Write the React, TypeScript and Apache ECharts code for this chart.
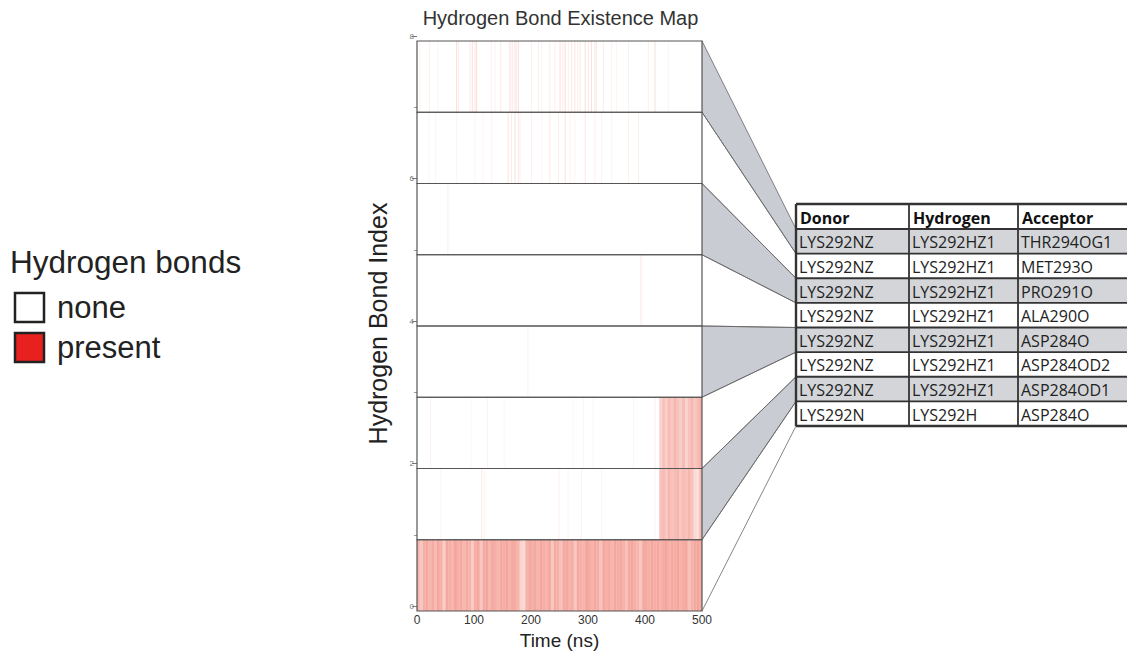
import React, { useEffect, useRef } from "react";
import * as echarts from "echarts";

// ---------------- data ----------------
const bondIndex = [0, 1, 2, 3, 4, 5, 6, 7];
const timeTicks = [0, 100, 200, 300, 400, 500];
const indexTickLabels = [0, 2, 4, 6, 8];
const indexMinorTicks = [1, 3, 5, 7];

const binWidthNs = 5;
// bond 0 (bottom row): occupancy per 5 ns bin, 0-500 ns
const row0Bins = [
  0.6, 0.45, 0.65, 0.7, 0.6, 0.68, 0.55, 0.7, 0.62, 0.4,
  0.7, 0.66, 0.6, 0.72, 0.64, 0.7, 0.58, 0.68, 0.62, 0.42,
  0.66, 0.7, 0.45, 0.68, 0.72, 0.6, 0.7, 0.65, 0.58, 0.7,
  0.66, 0.72, 0.62, 0.7, 0.68, 0.6, 0.35, 0.3, 0.62, 0.7,
  0.65, 0.7, 0.6, 0.72, 0.66, 0.62, 0.7, 0.45, 0.68, 0.64,
  0.5, 0.68, 0.7, 0.62, 0.66, 0.45, 0.7, 0.64, 0.6, 0.72,
  0.68, 0.62, 0.7, 0.66, 0.48, 0.7, 0.64, 0.68, 0.6, 0.72,
  0.66, 0.7, 0.62, 0.5, 0.68, 0.72, 0.64, 0.6, 0.45, 0.7,
  0.68, 0.64, 0.72, 0.66, 0.7, 0.62, 0.68, 0.72, 0.64, 0.7,
  0.66, 0.72, 0.62, 0.68, 0.7, 0.5, 0.64, 0.7, 0.72, 0.68,
];
// dense end segments of bonds 1 and 2 (5 ns bins from 425 ns)
const tailStartNs = 425;
const row1TailBins = [0.5, 0.55, 0.45, 0.6, 0.5, 0.55, 0.6, 0.45, 0.55, 0.5, 0.6, 0.5, 0.3, 0.25, 0.55];
const row2TailBins = [0.35, 0.5, 0.4, 0.55, 0.45, 0.6, 0.5, 0.4, 0.55, 0.35, 0.5, 0.6, 0.45, 0.55, 0.65];

// isolated events: [time ns, intensity]
const row1Lines = [[42, 0.1], [113.5, 0.2], [118, 0.12], [249, 0.15], [265, 0.1], [288.6, 0.12], [324, 0.1], [417.5, 0.12]];
const row2Lines = [[24, 0.12], [96, 0.08], [124, 0.12], [153, 0.08], [274, 0.1], [292, 0.1], [309, 0.08], [379.6, 0.1], [417.5, 0.15]];
const row3Lines = [[194, 0.08], [196, 0.05]];
const row4Lines = [[392, 0.15], [395, 0.1]];
const row5Lines = [[54, 0.12], [56, 0.06]];
const row6Lines = [
  [21, 0.1], [32.7, 0.08], [69.6, 0.12], [101.8, 0.12], [116, 0.1], [131, 0.12], [160, 0.25], [166, 0.2],
  [172, 0.28], [178, 0.2], [180.7, 0.15], [201, 0.12], [219, 0.1], [233, 0.2], [248, 0.15], [260, 0.25],
  [268.5, 0.12], [277, 0.1], [295, 0.22], [312, 0.15], [324, 0.12], [341.5, 0.1], [371, 0.12], [388.6, 0.15],
];
const row7Lines = [
  [5, 0.12], [21.6, 0.15], [37, 0.1], [69.6, 0.3], [72.5, 0.15], [93, 0.15], [97, 0.3], [101.8, 0.25],
  [104.7, 0.3], [131, 0.15], [137, 0.12], [147, 0.2], [163, 0.3], [167, 0.25], [172, 0.3], [175, 0.2],
  [178, 0.25], [201, 0.12], [213, 0.15], [219, 0.12], [233, 0.18], [242, 0.15], [251, 0.28], [256, 0.2],
  [260, 0.3], [265.5, 0.15], [271, 0.2], [277, 0.25], [282, 0.15], [286, 0.2], [295, 0.3], [300.6, 0.2],
  [306, 0.28], [312, 0.25], [315, 0.2], [327, 0.15], [341.5, 0.12], [350, 0.1], [371, 0.12], [405.8, 0.15],
  [417.5, 0.3], [441, 0.1],
];

// table (top to bottom = bond 7 ... bond 0)
const tableHeaders = ["Donor", "Hydrogen", "Acceptor"];
const donors = ["LYS292NZ", "LYS292NZ", "LYS292NZ", "LYS292NZ", "LYS292NZ", "LYS292NZ", "LYS292NZ", "LYS292N"];
const hydrogens = ["LYS292HZ1", "LYS292HZ1", "LYS292HZ1", "LYS292HZ1", "LYS292HZ1", "LYS292HZ1", "LYS292HZ1", "LYS292H"];
const acceptors = ["THR294OG1", "MET293O", "PRO291O", "ALA290O", "ASP284O", "ASP284OD2", "ASP284OD1", "ASP284O"];

const legendTitle = "Hydrogen bonds";
const legendItems = ["none", "present"];

// ---------------- styles / layout ----------------
const ROW_LOW = -0.07;
const ROW_HIGH = 0.93;
const LINE_W_NS = 1.6;
const MARK_RGB = "236,96,80";
const ALPHA_SCALE = 0.78;
const FONT = "'Liberation Sans', Arial, sans-serif";
const TABLE_FONT = "'Open Sans', 'Noto Sans', sans-serif";

export default function App() {
  const ref = useRef<HTMLDivElement>(null);

  useEffect(() => {
    const chart = echarts.init(ref.current!, null, { renderer: "svg" });

    const marks: number[][] = [];
    row0Bins.forEach((a, k) => marks.push([k * binWidthNs, (k + 1) * binWidthNs, 0, a]));
    row1TailBins.forEach((a, k) => marks.push([tailStartNs + k * binWidthNs, tailStartNs + (k + 1) * binWidthNs, 1, a]));
    row2TailBins.forEach((a, k) => marks.push([tailStartNs + k * binWidthNs, tailStartNs + (k + 1) * binWidthNs, 2, a]));
    const sparse = [[], row1Lines, row2Lines, row3Lines, row4Lines, row5Lines, row6Lines, row7Lines];
    sparse.forEach((lines: any, i) =>
      lines.forEach(([t, a]: number[]) => marks.push([t - LINE_W_NS / 2, t + LINE_W_NS / 2, i, a]))
    );

    const tMax = timeTicks[timeTicks.length - 1];
    const tMin = timeTicks[0];

    chart.setOption({
      animation: false,
      backgroundColor: "#ffffff",
      grid: { left: 417, right: 425, top: 36, bottom: 40, containLabel: false, outerBoundsMode: "none" },
      xAxis: {
        type: "value",
        min: tMin,
        max: tMax,
        interval: 100,
        axisLine: { show: false },
        axisTick: { show: false },
        splitLine: { show: false },
        axisLabel: { fontSize: 12, color: "#333", margin: 3, fontFamily: FONT },
        name: "Time (ns)",
        nameLocation: "middle",
        nameGap: 20,
        nameTextStyle: { fontSize: 19, color: "#222", fontFamily: FONT },
      },
      yAxis: [
        {
          type: "value",
          min: ROW_LOW,
          max: indexTickLabels[indexTickLabels.length - 1],
          axisLine: { show: false },
          splitLine: { show: false },
          axisTick: { show: true, customValues: indexTickLabels, length: 5, lineStyle: { color: "#777", width: 1 } },
          axisLabel: { customValues: indexTickLabels, fontSize: 8, color: "#777", margin: 3, fontFamily: FONT },
          name: "Hydrogen Bond Index",
          nameLocation: "middle",
          nameGap: 27,
          nameTextStyle: { fontSize: 25, color: "#222", fontFamily: FONT },
        },
        {
          type: "value",
          min: ROW_LOW,
          max: indexTickLabels[indexTickLabels.length - 1],
          position: "left",
          axisLine: { show: false },
          splitLine: { show: false },
          axisTick: { show: true, customValues: indexMinorTicks, length: 3, lineStyle: { color: "#999", width: 1 } },
          axisLabel: { show: false },
        },
      ],
      series: [
        {
          type: "custom",
          data: marks,
          encode: { x: [0, 1], y: 2 },
          renderItem: (params: any, api: any) => {
            const t0 = api.value(0);
            const t1 = api.value(1);
            const row = api.value(2);
            const a = api.value(3) * ALPHA_SCALE;
            const p0 = api.coord([t0, row + ROW_HIGH]);
            const p1 = api.coord([t1, row + ROW_LOW]);
            return {
              type: "rect",
              shape: { x: p0[0], y: p0[1], width: Math.max(p1[0] - p0[0], 0.8), height: p1[1] - p0[1] },
              style: { fill: `rgba(${MARK_RGB},${a})` },
            };
          },
          z: 2,
        },
        {
          type: "custom",
          data: bondIndex.map((i) => [tMin, tMax, i]),
          encode: { x: [0, 1], y: 2 },
          renderItem: (params: any, api: any) => {
            const p0 = api.coord([api.value(0), api.value(2) + ROW_HIGH]);
            const p1 = api.coord([api.value(1), api.value(2) + ROW_LOW]);
            return {
              type: "rect",
              shape: { x: p0[0], y: p0[1], width: p1[0] - p0[0], height: p1[1] - p0[1] },
              style: { fill: "none", stroke: "#555", lineWidth: 1.2 },
            };
          },
          z: 3,
        },
      ],
    });

    // ---------- annotations: title, legend, table, connectors ----------
    const plotRight = chart.convertToPixel({ xAxisIndex: 0 }, tMax) as number;
    const plotLeft = chart.convertToPixel({ xAxisIndex: 0 }, tMin) as number;
    const yPix = (v: number) => chart.convertToPixel({ yAxisIndex: 0 }, v) as number;
    const plotTop = yPix(bondIndex.length - 1 + ROW_HIGH);

    const tableLeft = 796;
    const tableTop = 204;
    const headerH = 25;
    const rowH = 24.625;
    const colX = [796, 909, 1018, 1140];
    const nRows = donors.length;
    const tableBottom = tableTop + headerH + nRows * rowH;

    const g: any[] = [];

    // title
    g.push({
      type: "text",
      x: (plotLeft + plotRight) / 2 + 1,
      y: plotTop - 23,
      style: { text: "Hydrogen Bond Existence Map", fontSize: 20, fill: "#333", fontFamily: FONT, align: "center", verticalAlign: "middle" },
    });

    // legend
    g.push({
      type: "text", x: 10, y: 262,
      style: { text: legendTitle, fontSize: 31.5, fill: "#222", fontFamily: FONT, verticalAlign: "middle" },
    });
    const legendFills = ["#ffffff", "#e8211f"];
    legendItems.forEach((label, k) => {
      const by = 293 + k * 40;
      g.push({ type: "rect", shape: { x: 15, y: by, width: 29, height: 29 }, style: { fill: legendFills[k], stroke: "#222", lineWidth: 2.5 } });
      g.push({ type: "text", x: 57, y: by + 14, style: { text: label, fontSize: 31, fill: "#222", fontFamily: FONT, verticalAlign: "middle" } });
    });

    // connectors
    for (let k = 0; k < nRows; k++) {
      const idx = bondIndex.length - 1 - k;
      const pTop = yPix(idx + ROW_HIGH);
      const pBot = yPix(idx + ROW_LOW);
      const tTop = tableTop + headerH + k * rowH;
      const tBot = tTop + rowH;
      if (k % 2 === 0) {
        g.push({
          type: "polygon",
          shape: { points: [[plotRight, pTop], [tableLeft, tTop], [tableLeft, tBot], [plotRight, pBot]] },
          style: { fill: "#c9ccd2", stroke: "none" },
          z: 1,
        });
      }
      g.push({ type: "line", shape: { x1: plotRight, y1: pTop, x2: tableLeft, y2: tTop }, style: { stroke: "#666", lineWidth: 0.8 }, z: 2 });
      g.push({ type: "line", shape: { x1: plotRight, y1: pBot, x2: tableLeft, y2: tBot }, style: { stroke: "#666", lineWidth: 0.8 }, z: 2 });
    }

    // table body backgrounds
    g.push({ type: "rect", shape: { x: tableLeft, y: tableTop, width: colX[3] - tableLeft, height: tableBottom - tableTop }, style: { fill: "#ffffff" }, z: 3 });
    for (let k = 0; k < nRows; k++) {
      if (k % 2 === 0) {
        g.push({
          type: "rect",
          shape: { x: tableLeft, y: tableTop + headerH + k * rowH, width: colX[3] - tableLeft, height: rowH },
          style: { fill: "#d3d5d9" },
          z: 4,
        });
      }
    }
    // grid lines
    for (let k = 0; k <= nRows + 1; k++) {
      const yy = k === 0 ? tableTop : tableTop + headerH + (k - 1) * rowH;
      g.push({ type: "line", shape: { x1: tableLeft, y1: yy, x2: colX[3], y2: yy }, style: { stroke: "#333", lineWidth: k === 0 || k === nRows + 1 ? 2.4 : 1.8 }, z: 6 });
    }
    colX.forEach((cx, c) => {
      g.push({ type: "line", shape: { x1: cx, y1: tableTop, x2: cx, y2: tableBottom }, style: { stroke: "#333", lineWidth: c === 0 ? 2.4 : 1.8 }, z: 6 });
    });
    // header texts
    tableHeaders.forEach((h, c) => {
      g.push({
        type: "text", x: colX[c] + 4, y: tableTop + headerH / 2 + 1,
        style: { text: h, fontSize: 16, fontWeight: "bold", fill: "#111", fontFamily: TABLE_FONT, verticalAlign: "middle" },
        z: 7,
      });
    });
    const cols = [donors, hydrogens, acceptors];
    cols.forEach((col, c) => {
      col.forEach((txt, k) => {
        g.push({
          type: "text", x: colX[c] + 3, y: tableTop + headerH + k * rowH + rowH / 2 + 1,
          style: { text: txt, fontSize: 16, fill: "#222", fontFamily: TABLE_FONT, verticalAlign: "middle" },
          z: 7,
        });
      });
    });

    chart.setOption({ graphic: { elements: g } });

    return () => chart.dispose();
  }, []);

  return (
    <div
      ref={ref}
      style={{ position: "absolute", left: 0, top: 0, width: 1127, height: 651, background: "#ffffff" }}
    />
  );
}
